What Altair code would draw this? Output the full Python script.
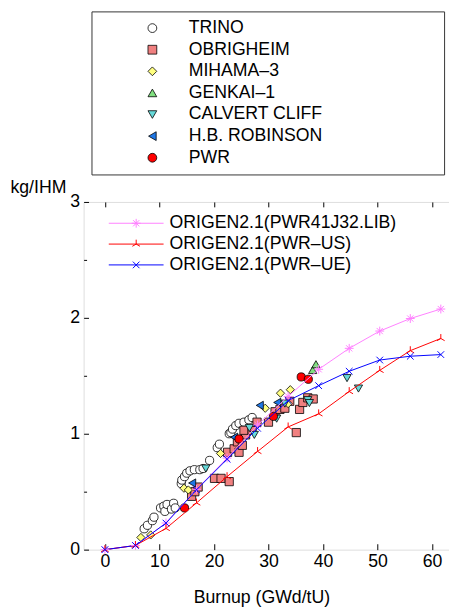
import altair as alt
import pandas as pd

FONT = "Liberation Sans"

# ---- calculated curves (ORIGEN2.1) ----
burnup_calc = [0, 5.6, 11.2, 16.8, 22.4, 28.0, 33.6, 39.2, 44.8, 50.4, 56.0, 61.6]
val_pwr41j32 = [0, 0.036, 0.23, 0.52, 0.79, 1.076, 1.322, 1.556, 1.737, 1.886, 1.994, 2.076]
val_pwr_us = [0, 0.036, 0.183, 0.403, 0.63, 0.847, 1.059, 1.172, 1.364, 1.547, 1.717, 1.822]
val_pwr_ue = [0, 0.036, 0.229, 0.517, 0.78, 1.047, 1.285, 1.415, 1.539, 1.636, 1.669, 1.683]
model_names = ["ORIGEN2.1(PWR41J32.LIB)", "ORIGEN2.1(PWR–US)", "ORIGEN2.1(PWR–UE)"]
model_colors = ["#ff80ff", "#ff0000", "#0000ff"]

# ---- measured data ----
trino_x = [7.2, 7.8, 8.7, 9.0, 10.2, 10.8, 11.0, 11.4, 12.2, 12.6, 12.9, 14.0, 14.1, 14.6, 15.0, 15.6,
           16.4, 17.4, 18.0, 19.2, 20.6, 21.0, 22.8, 23.1, 23.4, 24.0, 24.6, 25.5, 26.4, 27.0]
trino_y = [0.18, 0.21, 0.25, 0.28, 0.36, 0.375, 0.33, 0.39, 0.35, 0.40, 0.36, 0.57, 0.60, 0.63, 0.66, 0.68,
           0.69, 0.69, 0.70, 0.77, 0.88, 0.91, 1.00, 1.01, 1.04, 1.07, 1.09, 1.10, 1.12, 1.14]
obrigheim_x = [15.9, 16.5, 17.1, 20.1, 21.3, 22.8, 22.5, 23.7, 24.3, 24.6, 25.2, 25.8, 25.5, 27.0, 27.9,
               30.0, 31.2, 32.1, 33.0, 33.9, 35.1, 35.7, 36.3, 37.2, 38.2]
obrigheim_y = [0.46, 0.50, 0.54, 0.615, 0.615, 0.587, 0.84, 0.87, 0.93, 0.84, 0.90, 0.99, 1.03, 1.03, 1.10,
               1.10, 1.19, 1.21, 1.22, 1.28, 1.01, 1.21, 1.27, 1.31, 1.30]
mihama_x = [6.6, 8.4, 14.5, 15.3, 21.2, 29.4, 32.2, 34.0, 33.6]
mihama_y = [0.105, 0.127, 0.53, 0.515, 0.83, 1.22, 1.35, 1.38, 1.26]
genkai_x = [38.1, 38.7]
genkai_y = [1.55, 1.60]
calvert_x = [18.5, 26.5, 27.4, 31.5, 33.0, 37.2, 37.5, 44.4, 46.5]
calvert_y = [0.70, 1.05, 0.99, 1.13, 1.26, 1.29, 1.265, 1.48, 1.39]
robinson_x = [16.0, 23.7, 28.4, 31.6]
robinson_y = [0.575, 0.97, 1.245, 1.27]
pwr_x = [14.6, 24.6, 30.9, 36.0, 37.3]
pwr_y = [0.36, 0.955, 1.15, 1.49, 1.47]

dataset_names = ["TRINO", "OBRIGHEIM", "MIHAMA–3", "GENKAI–1", "CALVERT CLIFF", "H.B. ROBINSON", "PWR"]
dataset_shapes = ["circle", "square", "diamond", "triangle-up", "triangle-down", "triangle-left", "circle"]
dataset_fills = ["#ffffff", "#f08080", "#ffff80", "#80e080", "#66d9d9", "#1f77e6", "#ff0000"]
dataset_strokes = ["#000000"] * 7

exp_series = [(trino_x, trino_y), (obrigheim_x, obrigheim_y), (mihama_x, mihama_y), (genkai_x, genkai_y),
              (calvert_x, calvert_y), (robinson_x, robinson_y), (pwr_x, pwr_y)]
rows = []
for name, (xs, ys) in zip(dataset_names, exp_series):
    for a, b in zip(xs, ys):
        rows.append({"burnup": a, "value": b, "dataset": name})
df_exp = pd.DataFrame(rows)

rows = []
for name, vals in zip(model_names, [val_pwr41j32, val_pwr_us, val_pwr_ue]):
    for i, (a, b) in enumerate(zip(burnup_calc, vals)):
        rows.append({"burnup": a, "value": b, "model": name, "order": i})
df_calc = pd.DataFrame(rows)

# marker glyphs (custom symbol paths)
m_star = "M-1,0L1,0M0,-1L0,1M-0.7,-0.7L0.7,0.7M-0.7,0.7L0.7,-0.7"
m_tri = "M0,0L0,-1M0,0L-0.87,0.5M0,0L0.87,0.5"
m_x = "M-0.75,-0.75L0.75,0.75M-0.75,0.75L0.75,-0.75"
marker_paths = [m_star, m_tri, m_x]
seg = "M-6.2,0L6.2,0"
legend_paths = [seg + p for p in marker_paths]

x_scale = alt.Scale(domain=[-3.9, 63.1], nice=False, zero=False)
y_scale = alt.Scale(domain=[0, 3], nice=False, zero=False)

x_bottom = alt.Axis(orient="bottom", values=[0, 10, 20, 30, 40, 50, 60], offset=-6, tickSize=6,
                    domain=False, grid=False, labelFont=FONT, labelFontSize=18, labelPadding=3,
                    labelColor="black", tickColor="black", title="Burnup (GWd/tU)", titleFont=FONT,
                    titleFontSize=18, titleFontWeight="normal", titleColor="black", titleX=181,
                    titleY=60, titleAlign="center", titleBaseline="alphabetic")
y_left = alt.Axis(orient="left", values=[0, 1, 2, 3], offset=-5, tickSize=5, domain=False, grid=False,
                  labelFont=FONT, labelFontSize=18, labelPadding=4, labelColor="black", tickColor="black",
                  title="kg/IHM", titleFont=FONT, titleFontSize=18, titleFontWeight="normal",
                  titleColor="black", titleAngle=0, titleAlign="left", titleBaseline="alphabetic",
                  titleX=-80, titleY=-10)
x_top = alt.Axis(orient="top", values=[0, 10, 20, 30, 40, 50, 60], offset=-5, tickSize=5, domain=False,
                 grid=False, labels=False, tickColor="black", title=None)
y_minor = alt.Axis(orient="left", values=[0.5, 1.5, 2.5], offset=-3, tickSize=3, domain=False, grid=False,
                   labels=False, tickColor="black", title=None)

exp_legend = alt.Legend(orient="none", legendX=8, legendY=-194, title=" ", titleOrient="right",
                        titleFontSize=1, titlePadding=116, padding=8, strokeColor="#333333",
                        fillColor="white", labelFont=FONT, labelFontSize=18, labelColor="black",
                        rowPadding=4, symbolSize=80, symbolOffset=45, labelOffset=28,
                        symbolStrokeWidth=0.8, labelLimit=300)

exp_layer = alt.Chart(df_exp).mark_point(filled=True, strokeWidth=0.8, size=70, opacity=1).encode(
    x=alt.X("burnup:Q", scale=x_scale, axis=x_bottom),
    y=alt.Y("value:Q", scale=y_scale, axis=y_left),
    shape=alt.Shape("dataset:N", scale=alt.Scale(domain=dataset_names, range=dataset_shapes),
                    legend=exp_legend),
    fill=alt.Fill("dataset:N", scale=alt.Scale(domain=dataset_names, range=dataset_fills),
                  legend=exp_legend),
    stroke=alt.Stroke("dataset:N", scale=alt.Scale(domain=dataset_names, range=dataset_strokes),
                      legend=exp_legend),
)

line_layer = alt.Chart(df_calc).mark_line(strokeWidth=1).encode(
    x=alt.X("burnup:Q", scale=x_scale, axis=x_top),
    y=alt.Y("value:Q", scale=y_scale, axis=y_minor),
    color=alt.Color("model:N", scale=alt.Scale(domain=model_names, range=model_colors), legend=None),
    order="order:Q",
)

marker_layer = alt.Chart(df_calc).mark_point(filled=False, strokeWidth=1, size=81, opacity=1).encode(
    x=alt.X("burnup:Q", scale=x_scale, axis=None),
    y=alt.Y("value:Q", scale=y_scale, axis=None),
    shape=alt.Shape("model:N", scale=alt.Scale(domain=model_names, range=marker_paths), legend=None),
    stroke=alt.Stroke("model:N", scale=alt.Scale(domain=model_names, range=model_colors), legend=None),
)

line_legend = alt.Legend(orient="none", legendX=21, legendY=12.7, title=None, padding=0,
                         labelFont=FONT, labelFontSize=18, labelColor="black", rowPadding=3.2,
                         symbolSize=81, symbolOffset=23.5, labelOffset=25, symbolStrokeWidth=1,
                         labelLimit=300)

legend_layer = alt.Chart(df_calc).transform_filter("false").mark_point(
    filled=False, strokeWidth=1, size=81, opacity=1).encode(
    shape=alt.Shape("model:N", scale=alt.Scale(domain=model_names, range=legend_paths), legend=line_legend),
    stroke=alt.Stroke("model:N", scale=alt.Scale(domain=model_names, range=model_colors), legend=line_legend),
)

chart = alt.layer(exp_layer, line_layer, marker_layer, legend_layer).resolve_scale(
    shape="independent", fill="independent", stroke="independent", color="independent"
).resolve_axis(x="independent", y="independent").properties(
    width=372, height=354,
    padding={"left": 77, "top": 192, "right": 0, "bottom": 57},
    autosize=alt.AutoSizeParams(type="none"),
).configure_view(stroke="black", strokeWidth=1).configure(background="white")

chart.save("out.html", embed_options={"renderer": "svg", "actions": False})
